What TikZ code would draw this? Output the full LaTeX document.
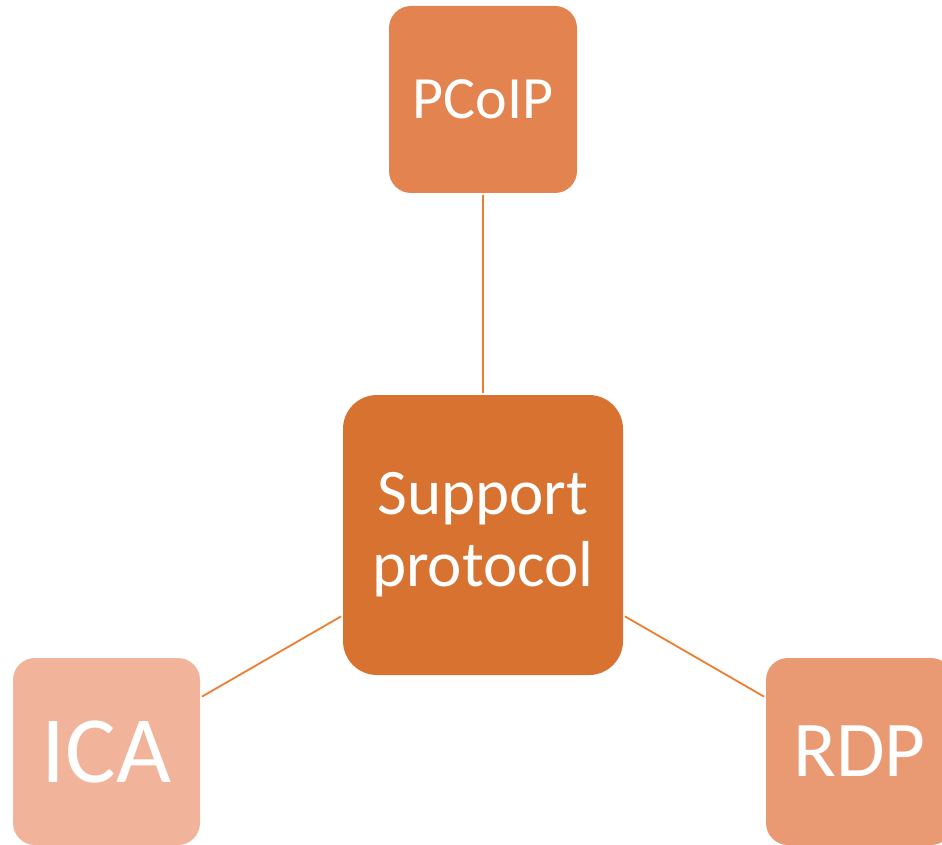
\documentclass[tikz,border=0pt]{standalone}
\usepackage{fontspec}
\setmainfont{Carlito}
\definecolor{cmain}{HTML}{D87230}
\definecolor{cpcoip}{HTML}{E38450}
\definecolor{crdp}{HTML}{EA9A73}
\definecolor{cica}{HTML}{F2B39B}
\definecolor{cline}{HTML}{ED7D31}
\begin{document}
\begin{tikzpicture}[x=1pt,y=-1pt,
  boxnode/.style={rectangle, rounded corners=22pt, inner sep=0pt, text=white, align=center},
  link/.style={draw=cline, line width=1.8pt, shorten <=2pt, shorten >=2pt}]
\useasboundingbox (0,0) rectangle (942,845);
\node[boxnode, fill=cmain, minimum width=280pt, minimum height=280pt, rounded corners=34pt,
  font=\fontsize{65}{72}\selectfont] (c) at (483,535) {Support\\protocol};
\node[boxnode, fill=cpcoip, minimum width=188pt, minimum height=187pt,
  font=\fontsize{60}{66}\selectfont] (p) at (483,99.5) {PCoIP};
\node[boxnode, fill=cica, minimum width=187pt, minimum height=187pt,
  font=\fontsize{95}{100}\selectfont] (i) at (106.5,751.5) {ICA};
\node[boxnode, fill=crdp, minimum width=187pt, minimum height=187pt,
  font=\fontsize{79}{86}\selectfont] (r) at (859.5,751.5) {RDP};
\draw[link] (p) -- (c);
\draw[link] (c) -- (i);
\draw[link] (c) -- (r);
\end{tikzpicture}
\end{document}
